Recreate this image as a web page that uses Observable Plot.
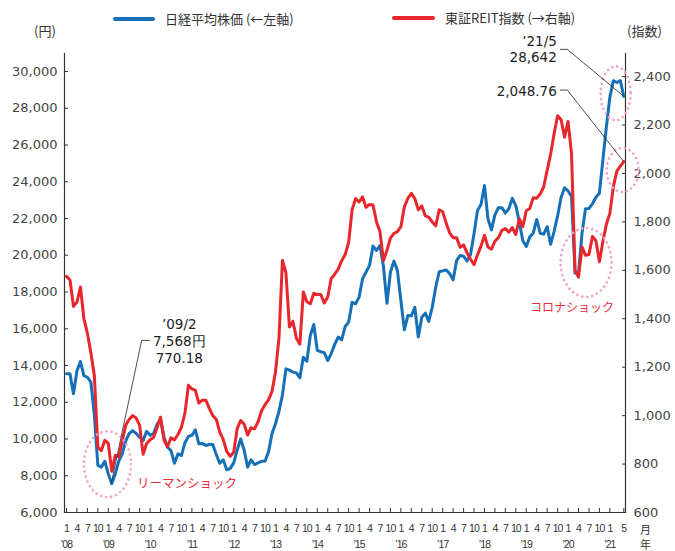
<!DOCTYPE html>
<html>
<head>
<meta charset="utf-8">
<script src="https://cdn.jsdelivr.net/npm/d3@7"></script>
<script src="https://cdn.jsdelivr.net/npm/@observablehq/plot@0.6"></script>
<style>
  body { margin: 0; background: #fff; }
  #wrap { position: relative; width: 675px; height: 551px; overflow: hidden; }
  .lab { position: absolute; font-family: "Noto Sans CJK JP", sans-serif; color: #333; white-space: nowrap; line-height: 1; }
  .sw { position: absolute; height: 4px; border-radius: 2px; }
</style>
</head>
<body>
<div id="wrap">
  <div class="sw" style="left:113px;top:17px;width:42px;background:#1570b8"></div>
  <div class="lab" style="left:165px;top:12px;font-size:13px">日経平均株価 (←左軸)</div>
  <div class="sw" style="left:392px;top:16px;width:43px;background:#e8262b"></div>
  <div class="lab" style="left:445px;top:11px;font-size:13px">東証REIT指数 (→右軸)</div>
  <div class="lab" style="left:34px;top:24px;font-size:13px">(円)</div>
  <div class="lab" style="left:627px;top:24px;font-size:13px">(指数)</div>
  <div class="lab" style="left:640px;top:524px;font-size:11px">月</div>
  <div class="lab" style="left:640px;top:539px;font-size:11px">年</div>
</div>
<script>
// Monthly values, Jan 2008 – May 2021
const nikkei = [
  13550,13550,12460,13700,14217,13450,13360,13090,11300,8560,8470,8790,   // 2008
  8100,7568,8100,8800,9190,9900,10300,10460,10300,10100,9920,10420,       // 2009
  10200,10300,10800,11040,10100,9550,9370,8680,9190,9100,9800,10140,      // 2010
  10200,10500,9740,9750,9650,9700,9700,9150,8680,8870,8320,8400,          // 2011
  8700,9400,10000,9400,8470,8870,8610,8700,8790,8790,9300,10300,          // 2012
  10830,11500,12400,13820,13750,13640,13600,13330,14450,14230,15630,16230,// 2013
  14820,14750,14700,14270,14650,15150,15550,15400,16120,16360,17440,17360,// 2014
  17720,18720,19080,19450,20500,20260,20530,19400,17388,19080,19680,19170,// 2015
  17540,15940,16720,16700,17170,15550,16630,16850,16400,17170,18260,19100,// 2016
  19150,19200,19000,18660,19710,19990,19950,19680,20040,21170,22440,22760,// 2017
  23800,21980,21380,22200,22590,22590,22290,22530,23100,22700,21800,20800,// 2018
  20480,21000,21200,21950,21200,21150,21560,20600,21300,22150,23160,23670,// 2019
  23500,23200,19030,19000,21200,22530,22550,22800,23160,23380,25200,27000,// 2020
  28600,29500,29400,29500,28642                                           // 2021
];
const reit = [
  1575,1560,1451,1469,1531,1400,1340,1260,1165,870,855,898,
  885,770,836,830,895,960,985,1000,990,960,840,885,
  900,910,950,994,898,872,908,900,922,952,1010,1125,
  1110,1104,1052,1064,1064,1030,1000,985,932,902,852,832,
  849,946,980,965,920,950,945,975,1020,1045,1065,1100,
  1180,1320,1641,1590,1366,1390,1320,1295,1510,1470,1462,1505,
  1500,1500,1465,1490,1566,1584,1605,1640,1665,1715,1850,1896,
  1882,1903,1860,1872,1870,1800,1760,1640,1683,1733,1752,1760,
  1780,1862,1897,1918,1896,1850,1866,1825,1820,1800,1784,1850,
  1842,1795,1755,1735,1735,1695,1705,1672,1646,1623,1664,1700,
  1745,1696,1687,1720,1735,1765,1772,1758,1776,1748,1812,1780,
  1846,1855,1900,1898,1915,1945,2013,2080,2165,2238,2222,2150,
  2215,2080,1600,1572,1696,1662,1665,1740,1722,1635,1720,1790,
  1835,1945,2010,2030,2049
];
const startYear = 2008;
const leftTicks = [6000,8000,10000,12000,14000,16000,18000,20000,22000,24000,26000,28000,30000];
const rightTicks = [600,800,1000,1200,1400,1600,1800,2000,2200,2400];
const monthLabels = ["1","4","7","10"];
const yearLabels = ["’08","’09","’10","’11","’12","’13","’14","’15","’16","’17","’18","’19","’20","’21"];

const BLUE = "#1570b8", RED = "#e8262b", PINK = "#f3a0c8", ANN_RED = "#e8303c";
const K = 13.18;
const toLeft = r => 6000 + (r - 600) * K;
const fromLeft = v => 600 + (v - 6000) / K;

const data = nikkei.map((v, i) => ({m: i, nikkei: v, reit: reit[i]}));
const n = nikkei.length - 1;
const monthTicks = [];
for (let m = 0; m <= n; m += 3) if (m + 3 <= n || m % 12 === 0) monthTicks.push(m);
monthTicks.push(n);
const monthText = m => m === n ? String((m % 12) + 1) : monthLabels[(m % 12) / 3];
const yearTicks = yearLabels.map((_, i) => i * 12);

const fmt = d3.format(",");
const numFont = "'DejaVu Sans', sans-serif";
const narrow = "'Liberation Sans Narrow', 'Liberation Sans', sans-serif";

const chart = Plot.plot({
  width: 675, height: 551,
  marginLeft: 64, marginRight: 50, marginTop: 53, marginBottom: 39,
  style: {fontFamily: numFont, fontSize: "13px", color: "#333", background: "transparent", overflow: "visible"},
  x: {type: "linear", domain: [0, n], insetLeft: 2, insetRight: 1.7},
  y: {domain: [6000, 30980]},
  marks: [
    Plot.frame({anchor: "left", stroke: "#333", strokeWidth: 1.2}),
    Plot.frame({anchor: "right", stroke: "#333", strokeWidth: 1.2}),
    Plot.frame({anchor: "bottom", stroke: "#333", strokeWidth: 1.2}),
    Plot.axisY({anchor: "left", ticks: leftTicks, tickSize: -4, tickPadding: 11, tickFormat: fmt, fill: "#444", label: null}),
    Plot.axisY({anchor: "right", ticks: rightTicks.map(toLeft), tickSize: -4, tickPadding: 12,
      tickFormat: d => fmt(Math.round(fromLeft(d))), fill: "#444", label: null}),
    Plot.axisX({ticks: monthTicks, tickSize: -4, tickFormat: () => "", label: null}),
    Plot.axisX({ticks: monthTicks, tickSize: 0, tickPadding: 12, tickFormat: monthText,
      fontSize: 10.5, fontFamily: narrow, fill: "#333", label: null}),
    Plot.axisX({ticks: yearTicks, tickSize: 0, tickPadding: 28, tickFormat: m => yearLabels[m / 12],
      fontSize: 10.5, fontFamily: narrow, fill: "#333", label: null}),
    Plot.line(data, {x: "m", y: "nikkei", stroke: BLUE, strokeWidth: 3, strokeLinejoin: "round"}),
    Plot.line(data, {x: "m", y: d => toLeft(d.reit), stroke: RED, strokeWidth: 3, strokeLinejoin: "round"})
  ]
});
document.getElementById("wrap").prepend(chart);

// condense the narrow x tick labels
d3.select(chart).selectAll('[aria-label="x-axis tick label"] text')
  .attr("letter-spacing", "-0.9px");

// Annotations anchored on the scales
const sx = chart.scale("x"), sy = chart.scale("y");
const X = v => sx.apply(v), Y = v => sy.apply(v);
const svg = d3.select(chart);
const g = svg.append("g");

const ellipses = [
  {m: 11.9, v: 8600, rx: 23.5, ry: 33},
  {m: 149.3, v: 19578, rx: 25.5, ry: 34.5},
  {m: 157.8, v: 28786, rx: 15, ry: 27},
  {m: 159.8, v: 24612, rx: 16, ry: 22}
];
g.selectAll("ellipse").data(ellipses).join("ellipse")
  .attr("cx", d => X(d.m)).attr("cy", d => Y(d.v))
  .attr("rx", d => d.rx).attr("ry", d => d.ry)
  .attr("fill", "none").attr("stroke", PINK).attr("stroke-width", 2.6)
  .attr("stroke-linecap", "round").attr("stroke-dasharray", "0.1 5");

function leader(px, py, ex, ey, hx) {
  g.append("path")
    .attr("d", `M${px},${py}L${ex},${ey}L${hx},${ey}`)
    .attr("fill", "none").attr("stroke", "#222").attr("stroke-width", 0.8);
}
// '09/2 low
const p1 = [X(13), Y(nikkei[13])];
leader(p1[0], p1[1], p1[0] + 30.4, p1[1] - 142.8, p1[0] + 38.7);
// '21/5 Nikkei
const p2 = [X(n), Y(nikkei[n])];
leader(p2[0], p2[1], p2[0] - 56, p2[1] - 46.6, p2[0] - 63.3);
// REIT latest
const p3 = [X(n), Y(toLeft(2048.76))];
leader(p3[0], p3[1], p3[0] - 56, p3[1] - 71.1, p3[0] - 63.3);

function txt(x, y, s, anchor, opts = {}) {
  g.append("text").attr("x", x).attr("y", y).attr("dy", "0.36em")
    .attr("text-anchor", anchor)
    .attr("font-family", opts.font || numFont)
    .attr("font-size", opts.size || 13.5)
    .attr("fill", opts.fill || "#222")
    .text(s);
}
txt(p1[0] + 68, p1[1] - 159.5, "’09/2", "middle");
txt(p1[0] + 68, p1[1] - 142.5, "7,568円", "middle");
txt(p1[0] + 68, p1[1] - 125.5, "770.18", "middle");
txt(p2[0] - 66.5, p2[1] - 54.5, "’21/5", "end");
txt(p2[0] - 66.5, p2[1] - 39, "28,642", "end");
txt(p3[0] - 66.5, p3[1] - 70.5, "2,048.76", "end");
txt(X(11.9) + 29.5, Y(8600) + 19, "リーマンショック", "start", {font: "'Noto Sans CJK JP', sans-serif", size: 12.5, fill: ANN_RED});
txt(X(149.3) - 56, Y(19578) + 45.5, "コロナショック", "start", {font: "'Noto Sans CJK JP', sans-serif", size: 12, fill: ANN_RED});
</script>
</body>
</html>
